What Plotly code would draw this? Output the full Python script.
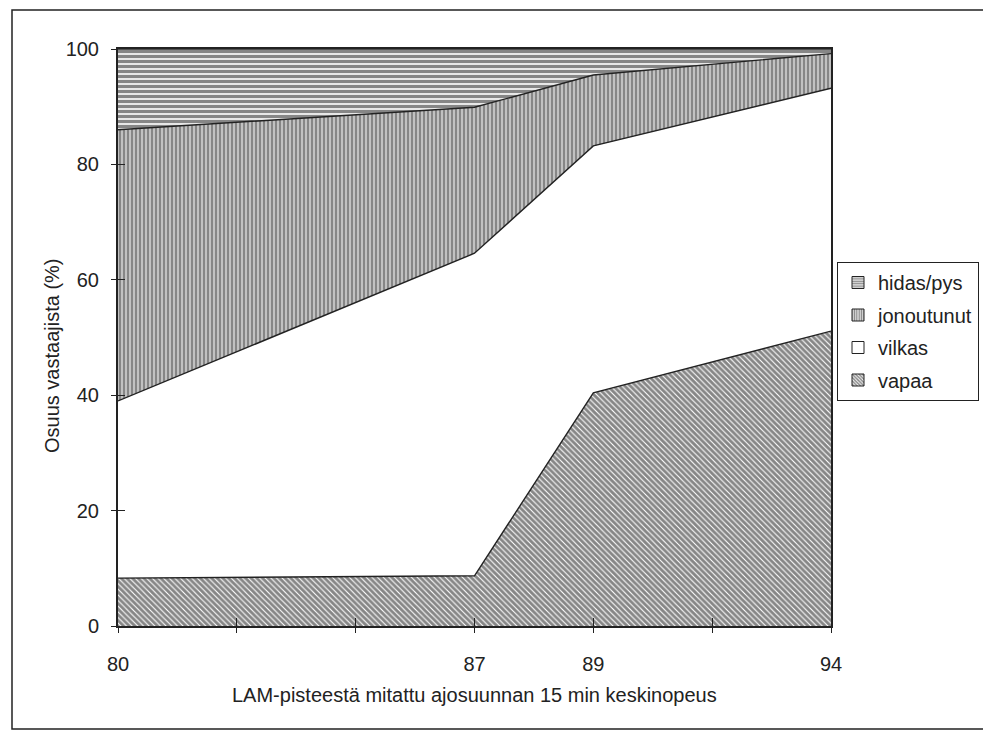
import plotly.graph_objects as go

# Category slots on the speed axis (blank slots carry a tick but no label)
axis_slots = ["80", "", "", "87", "89", "", "94"]
speeds = ["80", "87", "89", "94"]

# Share of respondents (%) per traffic-state class at each measured speed
vapaa = [8.3, 8.7, 40.4, 51.1]
vilkas = [30.7, 55.9, 42.8, 42.1]
jonoutunut = [47.0, 25.3, 12.3, 6.0]
hidas_pys = [14.0, 10.1, 4.5, 0.8]

y_ticks = [0, 20, 40, 60, 80, 100]

# name, values, hatch shape, hatch spacing, line share of the hatch
series = [
    ("vapaa", vapaa, "\\", 4, 0.72),
    ("vilkas", vilkas, "", 4, 0.0),
    ("jonoutunut", jonoutunut, "|", 4, 0.76),
    ("hidas/pys", hidas_pys, "-", 5, 0.68),
]

W, H = 983, 732
ML, MR, MT, MB = 118, 152, 49, 106
PW, PH = W - ML - MR, H - MT - MB

INK = "#222222"
HATCH = "#0e0e0e"
FONT = "Liberation Sans, Arial, sans-serif"

x_pos = [axis_slots.index(s) for s in speeds]
slot_idx = list(range(len(axis_slots)))

fig = go.Figure()

for name, vals, shape, size, sol in series:
    pattern = dict(shape=shape, size=size, solidity=sol, fgcolor=HATCH, bgcolor="white") if shape else None
    fig.add_trace(go.Scatter(
        x=x_pos, y=vals, name=name, stackgroup="one", mode="lines",
        line=dict(color=INK, width=1.4),
        fillcolor="white",
        fillpattern=pattern,
        showlegend=False, hoverinfo="skip",
    ))

# Legend keys: small hatched squares, listed top layer first
for name, vals, shape, size, sol in reversed(series):
    fig.add_trace(go.Bar(
        x=[None], y=[None], name=name, legendgroup=name,
        marker=dict(color="white", line=dict(color=INK, width=1),
                    pattern=dict(shape=shape, size=3, solidity=0.6, fgcolor=HATCH, bgcolor="white")),
        showlegend=True,
    ))

# Empty trace so the inner tick axes (x2/y2) are drawn
fig.add_trace(go.Scatter(x=[None], y=[None], xaxis="x2", yaxis="y2",
                         showlegend=False, hoverinfo="skip"))

axis_common = dict(showgrid=False, zeroline=False, tickcolor=INK, tickwidth=1,
                   tickfont=dict(family=FONT, size=20, color=INK))

fig.update_layout(
    width=W, height=H,
    margin=dict(l=ML, r=MR, t=MT, b=MB, autoexpand=False),
    paper_bgcolor="white", plot_bgcolor="white",
    font=dict(family=FONT, size=20, color=INK),
    xaxis=dict(range=[0, len(axis_slots) - 1], tickmode="array",
               tickvals=slot_idx, ticktext=axis_slots,
               ticks="outside", ticklen=5, ticklabelstandoff=14,
               showline=True, linecolor=INK, linewidth=1.5, mirror=True,
               **axis_common),
    yaxis=dict(range=[0, 100], tickmode="array", tickvals=y_ticks,
               ticks="outside", ticklen=5, ticklabelstandoff=8,
               showline=True, linecolor=INK, linewidth=2, mirror=True,
               **axis_common),
    xaxis2=dict(overlaying="x", anchor="y", range=[0, len(axis_slots) - 1],
                tickmode="array", tickvals=slot_idx,
                ticks="inside", ticklen=8, showticklabels=False,
                showline=False, showgrid=False, zeroline=False,
                tickcolor=INK, tickwidth=1),
    yaxis2=dict(overlaying="y", anchor="x", side="left", range=[0, 100],
                tickmode="array", tickvals=y_ticks,
                ticks="inside", ticklen=7, showticklabels=False,
                showline=False, showgrid=False, zeroline=False,
                tickcolor=INK, tickwidth=1),
    legend=dict(xref="container", yref="container",
                x=837 / W, y=1 - 262 / H, xanchor="left", yanchor="top",
                traceorder="grouped", tracegroupgap=3.5,
                bordercolor=INK, borderwidth=1, bgcolor="white",
                font=dict(family=FONT, size=20, color=INK), itemwidth=30),
    showlegend=True,
    annotations=[
        dict(text="Osuus vastaajista (%)", textangle=-90, xref="paper", yref="paper",
             x=(52 - ML) / PW, y=(MT + PH - 356) / PH, showarrow=False,
             xanchor="center", yanchor="middle", font=dict(family=FONT, size=20, color=INK)),
        dict(text="LAM-pisteestä mitattu ajosuunnan 15 min keskinopeus", xref="paper", yref="paper",
             x=0.5, y=(MT + PH - 695) / PH, showarrow=False,
             xanchor="center", yanchor="middle", font=dict(family=FONT, size=20, color=INK)),
    ],
    shapes=[
        # outer frame around the whole chart
        dict(type="rect", xref="paper", yref="paper",
             x0=(12 - ML) / PW, x1=(W + 10 - ML) / PW,
             y0=(MT + PH - 729) / PH, y1=(MT + PH - 10) / PH,
             line=dict(color=INK, width=1.5), fillcolor="rgba(0,0,0,0)", layer="below"),
    ],
)

fig.write_html("out.html")
